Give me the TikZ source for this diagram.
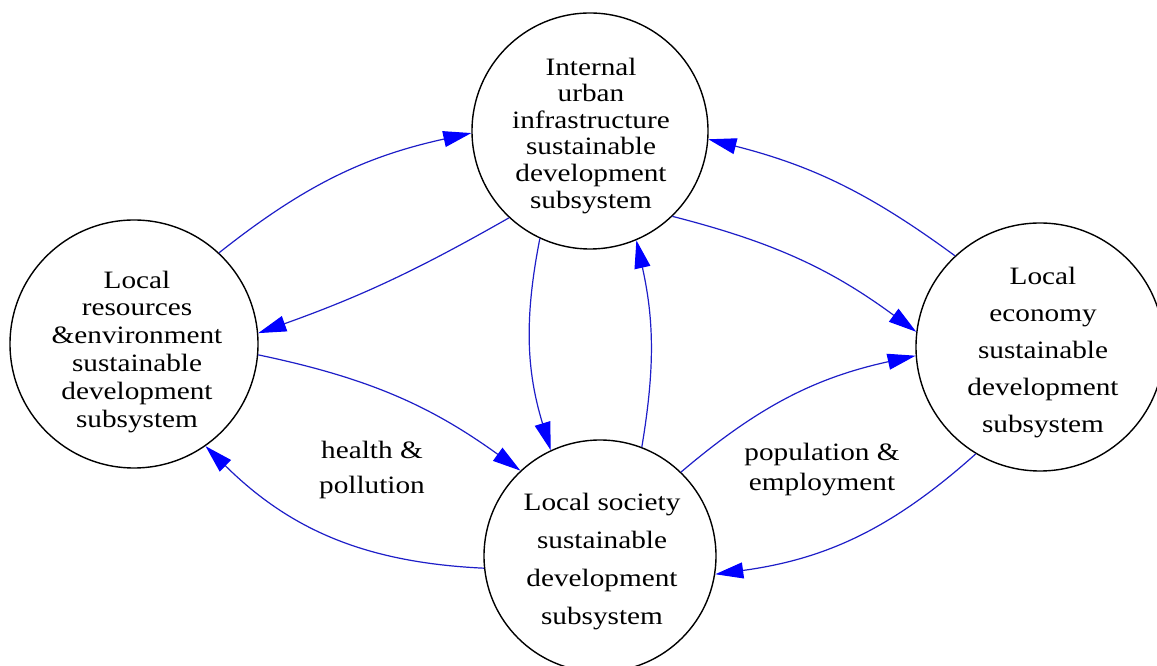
\documentclass[tikz,border=0pt]{standalone}
\usepackage{fontspec}
\setmainfont{Liberation Serif}[FakeStretch=1.17]
\usetikzlibrary{arrows.meta}
\definecolor{linkblue}{RGB}{30,30,200}
\definecolor{arrowblue}{RGB}{0,0,255}
\begin{document}
\begin{tikzpicture}[x=1pt,y=1pt,
  sub/.style={circle, draw=black, line width=1.4pt, inner sep=0pt},
  txt/.style={align=center, inner sep=0pt, text=black},
  link/.style={draw=linkblue, line width=1.2pt,
    -{Triangle[length=28pt,width=16pt,color=arrowblue]}}]
\useasboundingbox (0,0) rectangle (1157,666);
\fill[white] (0,0) rectangle (1157,666);
% subsystems
\node[sub, minimum size=236pt] (T) at (590,535) {};
\node[sub, minimum size=248pt] (L) at (134,322) {};
\node[sub, minimum size=248pt] (R) at (1040,319) {};
\node[sub, minimum size=232pt] (B) at (600,110) {};
% texts
\node[txt, font=\fontsize{25pt}{26.6pt}\selectfont] (Tt) at (591,530.3)
  {Internal\\urban\\infrastructure\\sustainable\\development\\subsystem};
\node[txt, font=\fontsize{25pt}{27.8pt}\selectfont] (Lt) at (137,314.3)
  {Local\\resources\\\&environment\\sustainable\\development\\subsystem};
\node[txt, font=\fontsize{25pt}{37pt}\selectfont] (Rt) at (1043,313)
  {Local\\economy\\sustainable\\development\\subsystem};
\node[txt, font=\fontsize{25pt}{38pt}\selectfont] (Bt) at (602,104.3)
  {Local society\\sustainable\\development\\subsystem};
\node[txt, font=\fontsize{25pt}{35pt}\selectfont] (hp) at (372,196.3)
  {health \&\\pollution};
\node[txt, font=\fontsize{25pt}{30pt}\selectfont] (pe) at (822,196.8)
  {population \&\\employment};
% connectors
\draw[link] (L.47.6)  to[bend left=13]  (T.181.9);
\draw[link] (T.227)   to[bend left=5]   (L.5.1);
\draw[link] (T.245.8) to[bend right=14] (B.115.3);
\draw[link] (B.69.8)  to[bend right=11] (T.293.6);
\draw[link] (T.314)   to[bend left=11]  (R.173);
\draw[link] (R.133.7) to[bend right=11] (T.356.1);
\draw[link] (L.355.4) to[bend left=12]  (B.133.2);
\draw[link] (B.186)   to[bend left=21]  (L.305.9);
\draw[link] (B.46)    to[bend left=14]  (R.184.6);
\draw[link] (R.239.7) to[bend left=17]  (B.351);
\end{tikzpicture}
\end{document}
